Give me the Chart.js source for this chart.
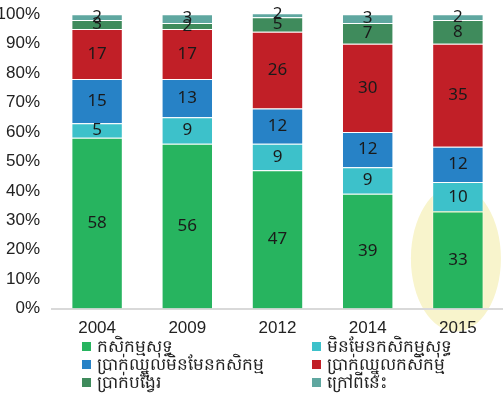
<!DOCTYPE html>
<html>
<head>
<meta charset="utf-8">
<script src="https://cdn.jsdelivr.net/npm/chart.js@4"></script>
<style>
  body { margin: 0; background: #fff; font-family: "Noto Sans", "DejaVu Sans", sans-serif; }
  #wrap { position: relative; width: 503px; height: 341px; }
  #legend { position: absolute; top: 333px; left: 0; width: 503px; }
  .item { position: absolute; font-size: 17px; color: #222; line-height: 18px; white-space: nowrap; }
  .item span.box { display: inline-block; width: 9px; height: 9px; margin-right: 6px; vertical-align: 1px; }
</style>
</head>
<body>
<div id="wrap"><canvas id="chart"></canvas></div>
<div id="legend"></div>
<script>
const years = ['2004', '2009', '2012', '2014', '2015'];
const seriesNames = ['កសិកម្មសុទ្ធ', 'មិនមែនកសិកម្មសុទ្ធ', 'ប្រាក់ឈ្នួលមិនមែនកសិកម្ម', 'ប្រាក់ឈ្នួលកសិកម្ម', 'ប្រាក់បង្វែរ', 'ក្រៅពីនេះ'];
const pureAgri = [58, 56, 47, 39, 33];
const pureNonAgri = [5, 9, 9, 9, 10];
const nonAgriWage = [15, 13, 12, 12, 12];
const agriWage = [17, 17, 26, 30, 35];
const transfers = [3, 2, 5, 7, 8];
const other = [2, 3, 2, 3, 2];
const colors = ['#27b45f', '#3dc1ca', '#2782c6', '#c11f27', '#3f8b5c', '#5fa7a0'];
const yTicks = [0, 10, 20, 30, 40, 50, 60, 70, 80, 90, 100];

const allSeries = [pureAgri, pureNonAgri, nonAgriWage, agriWage, transfers, other];

// yellow highlight behind the 2015 bar (drawn before the axes)
const highlight = {
  id: 'highlight',
  beforeDraw(chart) {
    const { ctx, scales } = chart;
    const x = scales.x.getPixelForValue(4);
    const y = scales.y.getPixelForValue(17);
    ctx.save();
    ctx.fillStyle = '#f8f4cc';
    ctx.beginPath();
    ctx.ellipse(x - 2, y, 45, 73, 0, 0, Math.PI * 2);
    ctx.fill();
    ctx.restore();
  }
};

// numbers inside the segments
const valueLabels = {
  id: 'valueLabels',
  afterDatasetsDraw(chart) {
    const { ctx } = chart;
    ctx.save();
    ctx.font = '17px "Noto Sans", sans-serif';
    ctx.fillStyle = '#1a1a1a';
    ctx.textAlign = 'center';
    ctx.textBaseline = 'middle';
    chart.data.datasets.forEach((ds, i) => {
      chart.getDatasetMeta(i).data.forEach((bar, j) => {
        const p = bar.getProps(['x', 'y', 'base'], true);
        ctx.fillText(ds.data[j], p.x, (p.y + p.base) / 2);
      });
    });
    ctx.restore();
  }
};

new Chart(document.getElementById('chart'), {
  type: 'bar',
  data: {
    labels: years,
    datasets: allSeries.map((d, i) => ({
      label: seriesNames[i],
      data: d,
      backgroundColor: colors[i],
      borderColor: 'rgba(255,255,255,0.45)',
      borderWidth: 1,
      categoryPercentage: 0.57,
      barPercentage: 1
    }))
  },
  options: {
    responsive: true,
    maintainAspectRatio: false,
    animation: false,
    layout: { padding: { top: 12, right: 0 } },
    plugins: { legend: { display: false }, tooltip: { enabled: false } },
    scales: {
      x: {
        stacked: true,
        grid: { display: false },
        border: { color: '#d9d9d9', width: 2 },
        ticks: { color: '#222', font: { size: 17 }, padding: 2 }
      },
      y: {
        stacked: true,
        min: 0,
        max: 100,
        afterFit: s => { s.width = 52; },
        afterBuildTicks: s => { s.ticks = yTicks.map(v => ({ value: v })); },
        grid: { display: false },
        border: { display: false },
        ticks: { color: '#222', font: { size: 17 }, padding: 4, callback: v => v + '%' }
      }
    }
  },
  plugins: [highlight, valueLabels]
});

// two-column legend
const legendPos = [[82, 4], [312, 4], [82, 22], [312, 22], [82, 40], [312, 40]];
const legend = document.getElementById('legend');
seriesNames.forEach((name, i) => {
  const div = document.createElement('div');
  div.className = 'item';
  div.style.left = legendPos[i][0] + 'px';
  div.style.top = legendPos[i][1] + 'px';
  div.innerHTML = '<span class="box" style="background:' + colors[i] + '"></span>' + name;
  legend.appendChild(div);
});
</script>
</body>
</html>
